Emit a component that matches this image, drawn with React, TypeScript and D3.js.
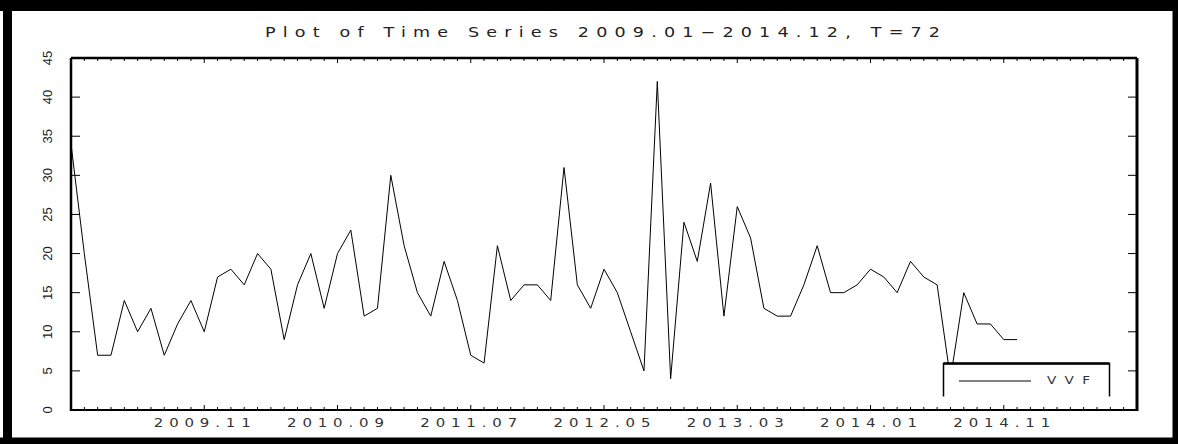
import React from "react";
import * as d3 from "d3";

const title = "Plot of Time Series 2009.01\u22122014.12, T=72";
const seriesName = "VVF";
const values = [
  34, 20, 7, 7, 14, 10, 13, 7, 11, 14, 10, 17, 18, 16, 20, 18, 9, 16, 20, 13,
  20, 23, 12, 13, 30, 21, 15, 12, 19, 14, 7, 6, 21, 14, 16, 16, 14, 31, 16, 13,
  18, 15, 10, 5, 42, 4, 24, 19, 29, 12, 26, 22, 13, 12, 12, 16, 21, 15, 15, 16,
  18, 17, 15, 19, 17, 16, 4, 15, 11, 11, 9, 9,
];
const xLabels = ["2009.11", "2010.09", "2011.07", "2012.05", "2013.03", "2014.01", "2014.11"];
const yTicks = [0, 5, 10, 15, 20, 25, 30, 35, 40, 45];
const startYear = 2009;
const monthSlots = 80;

const W = 1178;
const H = 444;
const L = 71, R = 1137, T = 58, B = 410;

function labelIndex(s: string) {
  const [yy, mm] = s.split(".").map(Number);
  return (yy - startYear) * 12 + (mm - 1);
}

const wideFont = "'DejaVu Sans', Verdana, sans-serif";

function WideText(props: {
  x: number;
  y: number;
  len: number;
  size: number;
  sx: number;
  anchor?: "start" | "middle";
  fill?: string;
  children: string;
}) {
  const { x, y, len, size, sx, anchor = "start", fill = "#333", children } = props;
  return (
    <text
      transform={`translate(${x}, ${y}) scale(${sx}, 1)`}
      textAnchor={anchor}
      fontFamily={wideFont}
      fontSize={size}
      fill={fill}
      textLength={len / sx}
      lengthAdjust="spacing"
    >
      {children}
    </text>
  );
}

export default function App() {
  const x = d3.scaleLinear().domain([0, monthSlots]).range([L, R]);
  const y = d3.scaleLinear().domain([0, 45]).range([B, T]);
  const line = d3
    .line<number>()
    .x((_, i) => x(i))
    .y((d) => y(d));
  const months = d3.range(1, monthSlots);
  const majors = new Set(xLabels.map(labelIndex));
  const font = "'Liberation Sans', Arial, sans-serif";

  return (
    <svg
      width={W}
      height={H}
      style={{ position: "absolute", left: 0, top: 0, background: "#fff" }}
    >
      <rect x={0} y={0} width={W} height={H} fill="#fff" />
      {/* outer frame */}
      <rect x={0} y={0} width={W} height={11} fill="#000" />
      <rect x={3} y={0} width={9} height={H} fill="#000" />
      <rect x={1172.5} y={0} width={6} height={H} fill="#000" />
      <rect x={0} y={437.5} width={W} height={7} fill="#000" />

      {/* title */}
      <WideText x={265} y={37} len={675} size={13.5} sx={1.3} fill="#222">
        {title}
      </WideText>

      {/* series line */}
      <path d={line(values) || ""} fill="none" stroke="#000" strokeWidth={1} />

      {/* monthly ticks top and bottom */}
      {months.map((m) => {
        const len = majors.has(m) ? 5 : 3;
        return (
          <g key={m}>
            <line x1={x(m)} x2={x(m)} y1={B} y2={B - len} stroke="#000" strokeWidth={1} />
            <line x1={x(m)} x2={x(m)} y1={T} y2={T + len} stroke="#000" strokeWidth={1} />
          </g>
        );
      })}

      {/* y ticks left and right */}
      {yTicks
        .filter((v) => v > 0 && v < 45)
        .map((v) => (
          <g key={v}>
            <line x1={L} x2={L + 9} y1={y(v)} y2={y(v)} stroke="#000" strokeWidth={1} />
            <line x1={R - 9} x2={R} y1={y(v)} y2={y(v)} stroke="#000" strokeWidth={1} />
          </g>
        ))}

      {/* plot frame */}
      <line x1={L} x2={R} y1={T} y2={T} stroke="#000" strokeWidth={2.5} />
      <line x1={L} x2={R} y1={B} y2={B} stroke="#000" strokeWidth={2} />
      <line x1={L} x2={L} y1={T} y2={B + 1} stroke="#000" strokeWidth={2.5} />
      <line x1={R} x2={R} y1={T} y2={B + 1} stroke="#000" strokeWidth={3} />

      {/* y labels */}
      {yTicks.map((v) => (
        <text
          key={v}
          transform={`translate(52, ${y(v)}) rotate(-90)`}
          textAnchor="middle"
          fontFamily={font}
          fontSize={13}
          fill="#222"
        >
          {v}
        </text>
      ))}

      {/* x labels */}
      {xLabels.map((s) => (
        <WideText key={s} x={x(labelIndex(s)) - 2} y={427} len={97} size={11.5} sx={1.3} anchor="middle">
          {s}
        </WideText>
      ))}

      {/* legend */}
      <rect x={943.5} y={363.5} width={166} height={33} fill="#fff" />
      <path
        d="M943.5,396.5 V363.5 H1109.5 V396.5"
        fill="none"
        stroke="#000"
        strokeWidth={1.5}
      />
      <line x1={943.5} x2={1109.5} y1={363.5} y2={363.5} stroke="#000" strokeWidth={2.5} />
      <line x1={959} x2={1031} y1={381} y2={381} stroke="#000" strokeWidth={1} />
      <WideText x={1047} y={384} len={43} size={10.5} sx={1.3}>
        {seriesName}
      </WideText>
    </svg>
  );
}
